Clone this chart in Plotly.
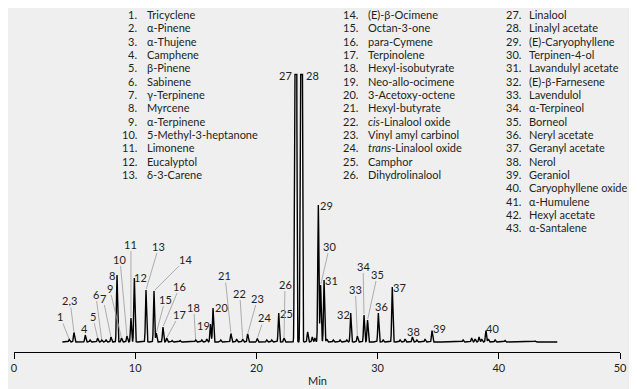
import numpy as np
import plotly.graph_objects as go

# ---------------- data ----------------
# labelled peaks: retention time (min) and height (relative intensity)
peak_labels = ["1", "2,3", "4", "5", "6", "7", "8", "9", "10", "11", "12", "13", "14",
               "15", "16", "17", "18", "19", "20", "21", "22", "23", "24", "25", "26",
               "27", "28", "29", "30", "31", "32", "33", "34", "35", "36", "37", "38",
               "39", "40"]
peak_rt = [4.56, 4.95, 5.88, 6.90, 7.24, 8.00, 8.50, 8.87, 9.32, 9.65, 9.93, 10.89, 11.55,
           11.74, 12.29, 12.60, 14.99, 16.21, 16.42, 17.90, 18.87, 19.28, 20.07, 21.84, 22.28,
           23.23, 23.70, 25.11, 25.30, 25.58, 27.78, 28.33, 28.88, 29.17, 30.06, 31.21, 32.87,
           34.49, 38.94]
peak_height = [2.5, 9.5, 7, 4, 2, 5, 67, 4, 6, 24, 64, 52, 51,
               9, 15, 4, 2, 18, 34, 8.5, 3, 8, 3.5, 29, 4,
               4000, 4000, 137, 57, 62, 29, 6, 27, 22, 29, 55, 5,
               11.5, 11.5]

# small unlabelled peaks along the baseline
minor_rt = [6.27, 7.59, 13.04, 13.70, 15.49, 15.90, 17.05, 18.37, 20.85, 21.26,
            24.23, 24.61, 24.83, 25.80, 26.34, 26.90, 27.45, 30.45, 31.85, 32.26,
            33.23, 33.91, 37.05, 37.76, 38.04, 38.37, 38.59, 39.13, 39.69, 40.51, 42.99]
minor_height = [2, 2, 1.5, 1.5, 2, 3, 2, 3, 2, 2,
                10, 5, 4, 3, 2, 2, 2, 2, 2, 3,
                2, 3, 2, 4, 3, 5, 3, 3, 2, 1.5, 1]

x_ticks = [0, 10, 20, 30, 40, 50]

legend_col1 = ["Tricyclene", "α-Pinene", "α-Thujene", "Camphene", "β-Pinene", "Sabinene",
               "γ-Terpinene", "Myrcene", "α-Terpinene", "5-Methyl-3-heptanone", "Limonene",
               "Eucalyptol", "δ-3-Carene"]
legend_col2 = ["(E)-β-Ocimene", "Octan-3-one", "para-Cymene", "Terpinolene", "Hexyl-isobutyrate",
               "Neo-allo-ocimene", "3-Acetoxy-octene", "Hexyl-butyrate", "<i>cis</i>-Linalool oxide",
               "Vinyl amyl carbinol", "<i>trans</i>-Linalool oxide", "Camphor", "Dihydrolinalool"]
legend_col3 = ["Linalool", "Linalyl acetate", "(E)-Caryophyllene", "Terpinen-4-ol",
               "Lavandulyl acetate", "(E)-β-Farnesene", "Lavendulol", "α-Terpineol", "Borneol",
               "Neryl acetate", "Geranyl acetate", "Nerol", "Geraniol", "Caryophyllene oxide",
               "α-Humulene", "Hexyl acetate", "α-Santalene"]

# label placement (pixel offsets of label centre from the peak top) and leader flag
label_dx = [-9, -4, -1, -5, -6, -8, -5, -12, -7, 0, 6.5, 13, 32,
            9, 17, 13, -2, -7, 8, -6, -3, 10, 7, 7.5, 1,
            -10.5, 11.5, 8, 9, 7, -7.5, -2, -1, 10, 3.5, 7, 1,
            7, 7]
label_dy = [-23, -32, -7, -22, -46, -39, 0, -50, -77, -74, -1, -44, -32,
            -34, -41, -24, -33, 1, -1, -58, -46, -36, -21, 0, -54,
            1, 1, 0, -39, 0, 1, -47, -49, -46, -7, 0, -6,
            -2, -2]
label_leader = [1, 1, 0, 1, 1, 1, 0, 1, 1, 1, 0, 1, 1,
                1, 1, 1, 1, 0, 0, 1, 1, 1, 1, 0, 1,
                0, 0, 0, 1, 0, 0, 1, 1, 1, 0, 0, 0,
                0, 0]

# ---------------- build trace ----------------
FONT = "Lato"
TXT = "#231f20"
BG = "#efefef"
Y_RANGE = [-10, 269]
CAP = 267.5
SIGMA = 0.045

t = np.arange(3.99, 44.83, 0.004)
sig = np.zeros_like(t)
for rt, h in zip(peak_rt + minor_rt, peak_height + minor_height):
    sig += h * np.exp(-0.5 * ((t - rt) / SIGMA) ** 2)
sig_disp = np.minimum(sig, CAP)

fig = go.Figure()
# white interior of the off-scale peaks 27/28
m = (t > 22.9) & (t < 24.0)
fig.add_trace(go.Scatter(x=t[m], y=np.where(sig_disp[m] > 30, sig_disp[m], 0), mode="lines",
                         line=dict(width=0), fill="tozeroy", fillcolor="white",
                         hoverinfo="skip", showlegend=False))
fig.add_trace(go.Scatter(x=t, y=sig_disp, mode="lines",
                         line=dict(color="black", width=1.4), showlegend=False))

annotations = []
for lab, rt, h, dx, dy, lead in zip(peak_labels, peak_rt, peak_height, label_dx, label_dy, label_leader):
    ytop = min(h, CAP)
    if lead:
        annotations.append(dict(x=rt, y=ytop, xref="x", yref="y", text=lab, showarrow=True,
                                ax=dx, ay=dy, arrowhead=0, arrowwidth=0.8, arrowcolor="#9a9a9a",
                                standoff=1, borderpad=0,
                                font=dict(family=FONT, size=11, color=TXT)))
    else:
        annotations.append(dict(x=rt, y=ytop, xref="x", yref="y", text=lab, showarrow=False,
                                xshift=dx, yshift=-dy, xanchor="center", yanchor="middle",
                                font=dict(family=FONT, size=11, color=TXT)))

# page offset: the html body has an 8 px margin
OFF = 8
# plot-area geometry in window pixels
PLOT_L, PLOT_R, PLOT_T, PLOT_B = 14, 620, 73, 352
PLOT_W, PLOT_H = PLOT_R - PLOT_L, PLOT_B - PLOT_T


def px(xp):
    return (xp - PLOT_L) / PLOT_W


def py(yp):
    return (PLOT_B - yp) / PLOT_H


cols = [(legend_col1, 1, 138.5, 145), (legend_col2, 14, 360, 366), (legend_col3, 27, 523, 527)]
ROW0, ROWH = 14.5, 13.33
for names, start, num_r, name_l in cols:
    for i, name in enumerate(names):
        yy = py(ROW0 + i * ROWH)
        annotations.append(dict(x=px(num_r), y=yy, xref="paper", yref="paper",
                                text=f"{start + i}.", showarrow=False, xanchor="right",
                                yanchor="middle", font=dict(family=FONT, size=11, color=TXT)))
        annotations.append(dict(x=px(name_l), y=yy, xref="paper", yref="paper",
                                text=name, showarrow=False, xanchor="left",
                                yanchor="middle", font=dict(family=FONT, size=11, color=TXT)))

annotations.append(dict(x=0.5, y=py(380.5), xref="paper", yref="paper", text="Min",
                        showarrow=False, xanchor="center", yanchor="middle",
                        font=dict(family=FONT, size=11, color=TXT)))

W, H = 637 - OFF, 389 - OFF
fig.update_layout(
    width=W, height=H,
    margin=dict(l=PLOT_L - OFF, r=637 - PLOT_R, t=PLOT_T - OFF, b=389 - PLOT_B),
    paper_bgcolor=BG, plot_bgcolor=BG,
    xaxis=dict(range=[0, 50], tickvals=x_ticks, ticktext=[str(v) for v in x_ticks],
               showgrid=False, zeroline=False, showline=True, linecolor="black", linewidth=1.3,
               ticks="outside", ticklen=6, tickwidth=1.3, tickcolor="black",
               tickfont=dict(family=FONT, size=11, color=TXT), automargin=False),
    yaxis=dict(range=Y_RANGE, visible=False, showgrid=False, zeroline=False),
    annotations=annotations,
    showlegend=False,
)

fig.write_html("out.html")
